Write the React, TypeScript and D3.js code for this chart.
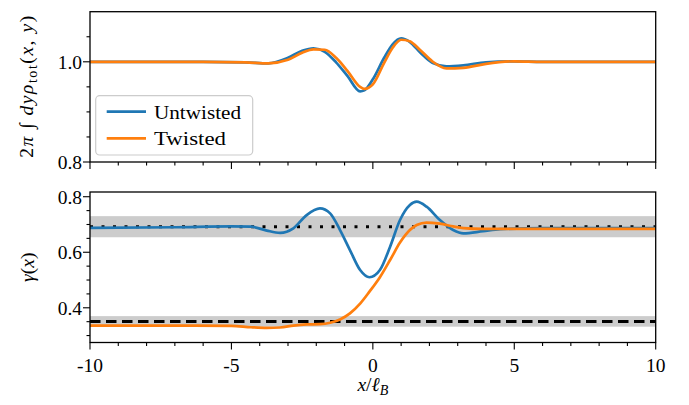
import React from 'react';
import * as d3 from 'd3';

// top panel: integrated density
const topX = [-10, -6, -4.5, -3.7, -3, -2.5, -2.1, -1.7, -1.3, -0.9, -0.45, -0.3, 0, 0.4, 0.7, 1.0, 1.3, 1.7, 2.1, 2.6, 3.2, 4.0, 5, 6, 10];
const topUntwisted = [1.0, 1.0, 0.999, 0.997, 1.008, 1.022, 1.027, 1.02, 0.999, 0.972, 0.941, 0.943, 0.965, 1.008, 1.035, 1.047, 1.04, 1.017, 0.998, 0.991, 0.993, 0.999, 1.001, 1.0, 1.0];
const topTwisted = [1.0, 1.0, 0.999, 0.997, 1.004, 1.018, 1.025, 1.024, 1.008, 0.982, 0.95, 0.946, 0.955, 0.998, 1.028, 1.044, 1.041, 1.022, 1.001, 0.987, 0.988, 0.996, 1.001, 1.0, 1.0];

// bottom panel: gamma(x)
const botX = [-10, -7, -5, -4.3, -3.75, -3.28, -2.81, -2.34, -1.87, -1.51, -1.16, -0.81, -0.45, -0.12, 0.25, 0.61, 0.96, 1.31, 1.55, 1.9, 2.37, 2.84, 3.2, 3.9, 4.5, 6, 10];
const botUntwisted = [0.688, 0.69, 0.693, 0.692, 0.678, 0.67, 0.686, 0.734, 0.758, 0.74, 0.68, 0.608, 0.536, 0.51, 0.536, 0.62, 0.716, 0.77, 0.782, 0.764, 0.716, 0.68, 0.668, 0.676, 0.683, 0.687, 0.687];
const botTwisted = [0.336, 0.336, 0.335, 0.33, 0.328, 0.329, 0.336, 0.34, 0.341, 0.346, 0.358, 0.38, 0.415, 0.458, 0.51, 0.572, 0.635, 0.68, 0.698, 0.707, 0.703, 0.693, 0.687, 0.684, 0.684, 0.684, 0.684];

// reference levels with bands [center, half-width]
const refDotted = [0.692, 0.038];
const refDashed = [0.351, 0.019];

const xMajor = [-10, -5, 0, 5, 10];
const xTickLabels = ['-10', '-5', '0', '5', '10'];
const topYMajor = [0.8, 1.0];
const botYMajor = [0.4, 0.6, 0.8];

const seriesNames = ['Untwisted', 'Twisted'];
const colors = ['#1f77b4', '#ff7f0e'];

const W = 689, H = 405;
const left = 90, right = 655.7;
const topPanel = { y0: 11.7, y1: 162 };
const botPanel = { y0: 192, y1: 342.5 };
const FONT = '"Liberation Serif", "DejaVu Serif", serif';
const FS = 19.5;

const x = d3.scaleLinear().domain([-10, 10]).range([left, right]);
const yTop = d3.scaleLinear().domain([0.8, 1.1]).range([topPanel.y1, topPanel.y0]);
const yBot = d3.scaleLinear().domain([0.275, 0.817]).range([botPanel.y1, botPanel.y0]);

const mkLine = (y: d3.ScaleLinear<number, number>, xs: number[]) =>
  d3.line<number>().x((_, i) => x(xs[i])).y(d => y(d)).curve(d3.curveMonotoneX);

const XTicks: React.FC<{ y: number }> = ({ y }) => (
  <g>
    {d3.range(-10, 11, 1).map(v => {
      const major = v % 5 === 0;
      return <line key={v} x1={x(v)} x2={x(v)} y1={y} y2={y + (major ? 7 : 3.5)} stroke="#000" strokeWidth={1.1} />;
    })}
  </g>
);

const YTicks: React.FC<{ y: d3.ScaleLinear<number, number>; minor: number[]; major: number[] }> = ({ y, minor, major }) => (
  <g>
    {minor.map(v => <line key={'m' + v} x1={left - 3.5} x2={left} y1={y(v)} y2={y(v)} stroke="#000" strokeWidth={1.1} />)}
    {major.map(v => (
      <g key={'M' + v}>
        <line x1={left - 7} x2={left} y1={y(v)} y2={y(v)} stroke="#000" strokeWidth={1.1} />
        <text x={left - 8} y={y(v)} dy="0.35em" textAnchor="end" fontSize={FS} fontFamily={FONT}>{v.toFixed(1)}</text>
      </g>
    ))}
  </g>
);

export default function App() {
  const lTopU = mkLine(yTop, topX)(topUntwisted) || '';
  const lTopT = mkLine(yTop, topX)(topTwisted) || '';
  const lBotU = mkLine(yBot, botX)(botUntwisted) || '';
  const lBotT = mkLine(yBot, botX)(botTwisted) || '';

  const topMinor = [0.85, 0.9, 0.95, 1.05];
  const botMinor = [0.3, 0.35, 0.45, 0.5, 0.55, 0.65, 0.7, 0.75];

  return (
    <svg width={W} height={H} style={{ position: 'absolute', left: 0, top: 0, background: '#fff' }}>
      <defs>
        <clipPath id="clipTop"><rect x={left} y={topPanel.y0} width={right - left} height={topPanel.y1 - topPanel.y0} /></clipPath>
        <clipPath id="clipBot"><rect x={left} y={botPanel.y0} width={right - left} height={botPanel.y1 - botPanel.y0} /></clipPath>
      </defs>

      {/* top panel */}
      <g clipPath="url(#clipTop)">
        <path d={lTopU} fill="none" stroke={colors[0]} strokeWidth={2.7} />
        <path d={lTopT} fill="none" stroke={colors[1]} strokeWidth={2.7} />
      </g>
      <rect x={left} y={topPanel.y0} width={right - left} height={topPanel.y1 - topPanel.y0} fill="none" stroke="#000" strokeWidth={1.3} />
      <YTicks y={yTop} minor={topMinor} major={topYMajor} />
      <XTicks y={topPanel.y1} />

      {/* legend */}
      <g>
        <rect x={95.7} y={95.7} width={157} height={59.3} rx={4} fill="#fff" fillOpacity={0.8} stroke="#cccccc" strokeWidth={1.2} />
        {seriesNames.map((s, i) => (
          <g key={s}>
            <line x1={106.7} x2={146} y1={111.7 + i * 26.6} y2={111.7 + i * 26.6} stroke={colors[i]} strokeWidth={2.7} />
            <text x={154} y={111.7 + i * 26.6} dy="0.35em" fontSize={FS} fontFamily={FONT}
              textLength={i === 0 ? 87 : 72} lengthAdjust="spacingAndGlyphs">{s}</text>
          </g>
        ))}
      </g>

      {/* bottom panel */}
      <g clipPath="url(#clipBot)">
        <rect x={left} width={right - left} y={yBot(refDotted[0] + refDotted[1])} height={yBot(refDotted[0] - refDotted[1]) - yBot(refDotted[0] + refDotted[1])} fill="#cccccc" />
        <rect x={left} width={right - left} y={yBot(refDashed[0] + refDashed[1])} height={yBot(refDashed[0] - refDashed[1]) - yBot(refDashed[0] + refDashed[1])} fill="#cccccc" />
        <line x1={left} x2={right} y1={yBot(refDotted[0])} y2={yBot(refDotted[0])} stroke="#000" strokeWidth={3} strokeDasharray="3,8.5" />
        <line x1={left} x2={right} y1={yBot(refDashed[0])} y2={yBot(refDashed[0])} stroke="#000" strokeWidth={3} strokeDasharray="10.5,5.5" />
        <path d={lBotU} fill="none" stroke={colors[0]} strokeWidth={2.7} />
        <path d={lBotT} fill="none" stroke={colors[1]} strokeWidth={2.7} />
      </g>
      <rect x={left} y={botPanel.y0} width={right - left} height={botPanel.y1 - botPanel.y0} fill="none" stroke="#000" strokeWidth={1.3} />
      <YTicks y={yBot} minor={botMinor} major={botYMajor} />
      <XTicks y={botPanel.y1} />
      {xMajor.map((v, i) => (
        <text key={v} x={x(v)} y={372} textAnchor="middle" fontSize={FS} fontFamily={FONT}>{xTickLabels[i]}</text>
      ))}

      {/* axis labels */}
      <text x={x(0)} y={391} textAnchor="middle" fontSize={FS} fontFamily={FONT}>
        <tspan fontStyle="italic">x</tspan>/<tspan fontStyle="italic">ℓ</tspan>
        <tspan fontStyle="italic" fontSize={14} dy={4}>B</tspan>
      </text>
      <text transform={`translate(33,${(topPanel.y0 + topPanel.y1) / 2}) rotate(-90)`} textAnchor="middle" fontSize={FS} fontFamily={FONT}
        textLength={142} lengthAdjust="spacing">
        2<tspan fontStyle="italic">π</tspan> ∫ <tspan fontStyle="italic">dyρ</tspan>
        <tspan fontSize={14} dy={4}>tot</tspan>
        <tspan dy={-4}>(</tspan><tspan fontStyle="italic">x</tspan>, <tspan fontStyle="italic">y</tspan>)
      </text>
      <text transform={`translate(34,${(botPanel.y0 + botPanel.y1) / 2}) rotate(-90)`} textAnchor="middle" fontSize={FS} fontFamily={FONT}>
        <tspan fontStyle="italic">γ</tspan>(<tspan fontStyle="italic">x</tspan>)
      </text>
    </svg>
  );
}
